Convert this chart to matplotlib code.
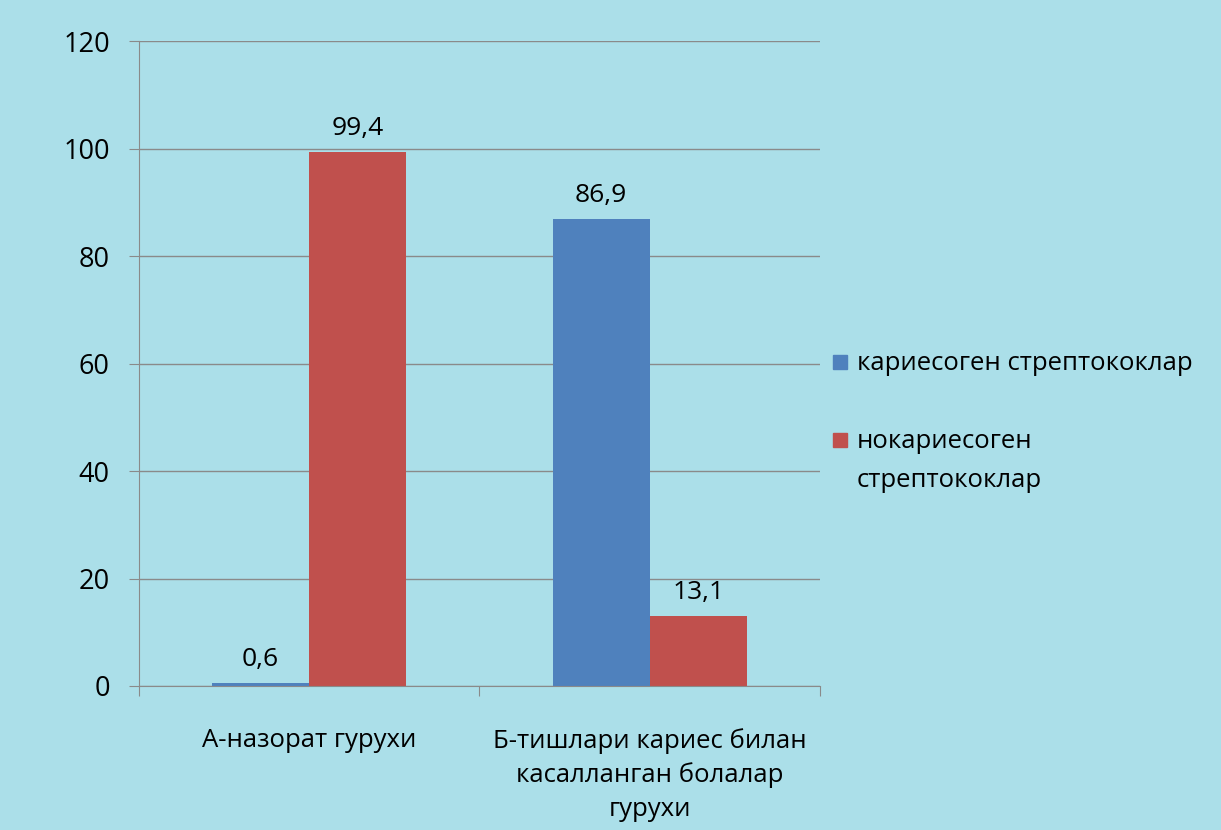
import matplotlib
matplotlib.use("Agg")
import matplotlib.pyplot as plt
from matplotlib.patches import Rectangle
import numpy as np

categories = ["А-назорат гурухи", "Б-тишлари кариес билан\nкасалланган болалар\nгурухи"]
series_names = ["кариесоген стрептококлар", "нокариесоген\nстрептококлар"]
cariogenic = [0.6, 86.9]
noncariogenic = [99.4, 13.1]
colors = ["#4f81bd", "#c0504d"]
yticks = [0, 20, 40, 60, 80, 100, 120]

plt.rcParams["font.family"] = ["Open Sans", "DejaVu Sans"]

fig = plt.figure(figsize=(12.21, 8.3), dpi=100)
fig.patch.set_facecolor("#abdfe9")
ax = fig.add_axes([0.1138, 0.1735, 0.5577, 0.777])
ax.set_facecolor("none")

x = np.arange(len(categories))
w = 0.285
b1 = ax.bar(x - w / 2, cariogenic, w, color=colors[0], label=series_names[0])
b2 = ax.bar(x + w / 2, noncariogenic, w, color=colors[1], label=series_names[1])

for bars, vals in ((b1, cariogenic), (b2, noncariogenic)):
    for r, v in zip(bars, vals):
        ax.text(r.get_x() + r.get_width() / 2, v + 2.0, f"{v:.1f}".replace(".", ","),
                ha="center", va="bottom", fontsize=19)

ax.set_xlim(-0.5, 1.5)
ax.set_ylim(0, 120)
ax.set_yticks(yticks)
ax.set_yticklabels([str(t) for t in yticks], fontsize=19.5)
ax.yaxis.grid(True, color="#8a8a8a", linewidth=1)
ax.set_axisbelow(True)

ax.set_xticks([-0.5, 0.5, 1.5])
ax.set_xticklabels([])
ax.set_xticks(x, minor=True)
ax.set_xticklabels(categories, minor=True, fontsize=18.5, linespacing=1.45)
ax.tick_params(axis="x", which="minor", length=0, pad=30)
ax.tick_params(axis="x", which="major", length=7, color="#8a8a8a")
ax.tick_params(axis="y", length=7, color="#8a8a8a", pad=14)

for s in ("top", "right"):
    ax.spines[s].set_visible(False)
for s in ("left", "bottom"):
    ax.spines[s].set_color("#8a8a8a")

# legend, drawn by hand so the square lines up with the first text line
leg_rows = [362, 440]
for name, c, yp in zip(series_names, colors, leg_rows):
    fy = 1 - yp / 830
    fig.patches.append(Rectangle((833 / 1221, fy - 7 / 830), 14 / 1221, 14 / 830,
                                 transform=fig.transFigure, color=c))
    fig.text(857 / 1221, fy + 11 / 830, name, fontsize=18.5, va="top", ha="left",
             linespacing=1.75)

fig.savefig("out.png", dpi=100, facecolor=fig.get_facecolor())
